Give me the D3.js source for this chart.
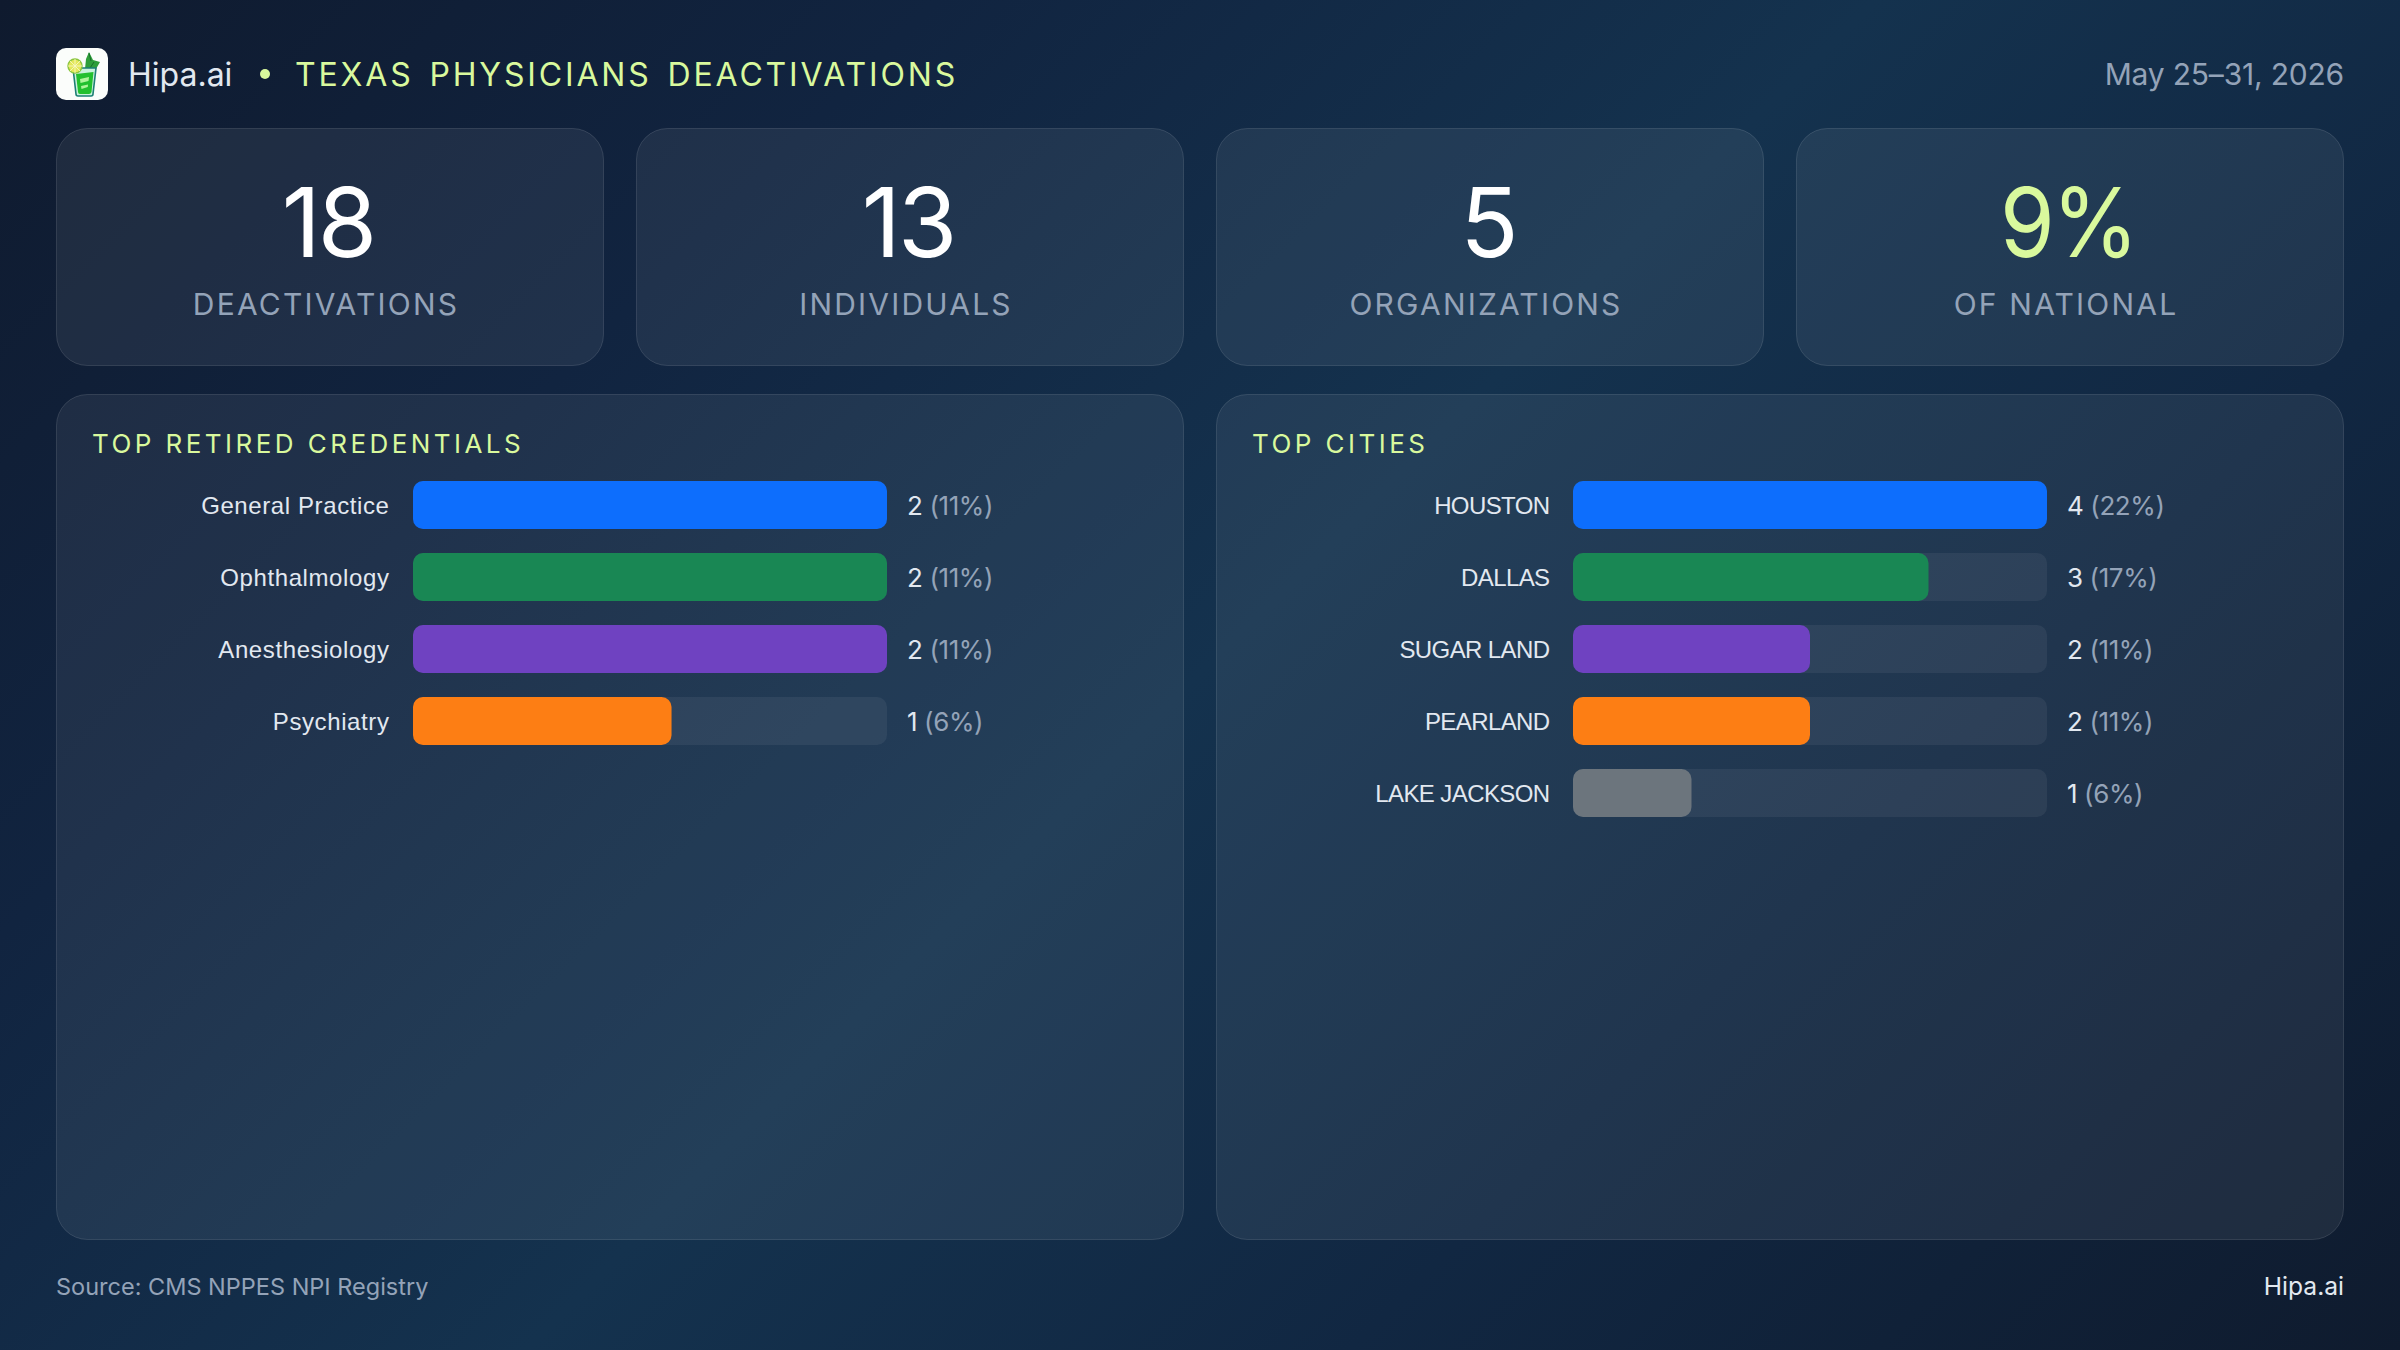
<!DOCTYPE html>
<html lang="en">
<head>
<meta charset="utf-8">
<title>Texas Physicians Deactivations</title>
<script src="https://cdn.jsdelivr.net/npm/d3@7/dist/d3.min.js"></script>
<style>
  html, body { margin: 0; padding: 0; width: 2400px; height: 1350px; overflow: hidden; }
  body { background: linear-gradient(135deg, #0f1a2e 0%, #112440 25%, #14324e 50%, #112742 72%, #0f1b2e 100%); }
  svg { display: block; font-family: Inter, "Noto Sans", sans-serif; }
  .axis .domain, .axis line { display: none; }
</style>
</head>
<body>
<svg id="chart" width="2400" height="1350"></svg>
<script>
// Headline figures
const statValues = ["18", "13", "5", "9%"];
const statLabels = ["DEACTIVATIONS", "INDIVIDUALS", "ORGANIZATIONS", "OF NATIONAL"];

// Credentials panel: bars follow the share of deactivations
const credentialNames = ["General Practice", "Ophthalmology", "Anesthesiology", "Psychiatry"];
const credentialCounts = [2, 2, 2, 1];
const credentialShares = [11, 11, 11, 6];

// Cities panel: bars follow the count
const cityNames = ["HOUSTON", "DALLAS", "SUGAR LAND", "PEARLAND", "LAKE JACKSON"];
const cityCounts = [4, 3, 2, 2, 1];
const cityShares = [22, 17, 11, 11, 6];

const barColors = ["#0d6efd", "#198754", "#6f42c1", "#fd7e14", "#6c757d"];

const LIME = "#d9f99d", MUTED = "#94a3b8", SOFT = "#e2e8f0";
const svg = d3.select("#chart");

// Header
const logo = svg.append("g").attr("transform", "translate(56,48)");
logo.append("rect").attr("width", 52).attr("height", 52).attr("rx", 10).attr("fill", "#fbfdfb");
logo.append("path").attr("d", "M30 11 L33 4 L37 12 L44 14 L40 21 L29 21 Z").attr("fill", "#2e9e3a");
logo.append("path").attr("d", "M33 5 L35 13 M38 14 L34 20").attr("stroke", "#166d2a").attr("stroke-width", 1).attr("fill", "none");
logo.append("path").attr("d", "M17 20 L40 20 L37 46 Q37 48 35 48 L22 48 Q20 48 20 46 Z")
  .attr("fill", "#c9f2dc").attr("stroke", "#1d7f74").attr("stroke-width", 1.6);
logo.append("path").attr("d", "M20 26 L37.5 24 L35.5 44 Q35 46 33 46 L24 46 Q22 46 22 44 Z").attr("fill", "#22c02e");
logo.append("path").attr("d", "M24 31 L33 29 L32.5 33 L24.5 35 Z M25 38 L32 36.5 L31.8 39 L25.5 41 Z").attr("fill", "#aef59a");
logo.append("circle").attr("cx", 19).attr("cy", 18).attr("r", 7).attr("fill", "#e4e85a").attr("stroke", "#8cc63f").attr("stroke-width", 1.4);
logo.append("path").attr("d", "M19 11 V25 M12 18 H26 M14 13 L24 23 M24 13 L14 23").attr("stroke", "#f6f7c4").attr("stroke-width", 0.9);

svg.append("text").attr("x", 128).attr("y", 86).attr("font-size", 32).attr("fill", SOFT).text("Hipa.ai");
svg.append("circle").attr("cx", 265).attr("cy", 74).attr("r", 5).attr("fill", LIME);
svg.append("text").attr("x", 295).attr("y", 86).attr("font-size", 32).attr("letter-spacing", 2.85)
  .attr("word-spacing", 4).attr("fill", LIME).text("TEXAS PHYSICIANS DEACTIVATIONS");
svg.append("text").attr("x", 2344).attr("y", 85).attr("text-anchor", "end").attr("font-size", 30)
  .attr("letter-spacing", -0.2).attr("fill", MUTED).text("May 25–31, 2026");

// Stat cards
const cardX = d3.scaleBand().domain(d3.range(statValues.length)).range([56, 2344]).paddingInner(32 / 580);
const cards = svg.selectAll(".card").data(statValues).join("g").attr("class", "card")
  .attr("transform", (d, i) => `translate(${cardX(i)},128)`);
cards.append("rect").attr("x", 0.5).attr("y", 0.5).attr("width", cardX.bandwidth() - 1).attr("height", 237)
  .attr("rx", 31).attr("fill", "rgba(255,255,255,0.066)").attr("stroke", "rgba(255,255,255,0.12)");
cards.append("text").attr("x", cardX.bandwidth() / 2 - 2).attr("y", 129).attr("text-anchor", "middle")
  .attr("font-size", 96).attr("letter-spacing", -3).attr("fill", (d, i) => i === 3 ? LIME : "#ffffff").text(d => d)
  .filter(d => d.endsWith("%")).attr("textLength", 136).attr("lengthAdjust", "spacingAndGlyphs");
cards.append("text").attr("x", cardX.bandwidth() / 2 - 4).attr("y", 187).attr("text-anchor", "middle")
  .attr("font-size", 30).attr("letter-spacing", 2.2).attr("fill", MUTED).text((d, i) => statLabels[i]);

// Ranked bar panel
function barPanel(left, title, names, counts, shares, barValues, labelSpacing) {
  const g = svg.append("g").attr("transform", `translate(${left},394)`);
  g.append("rect").attr("x", 0.5).attr("y", 0.5).attr("width", 1127).attr("height", 845)
    .attr("rx", 31).attr("fill", "rgba(255,255,255,0.066)").attr("stroke", "rgba(255,255,255,0.12)");
  g.append("text").attr("x", 36).attr("y", 59).attr("font-size", 26).attr("letter-spacing", 3.45)
    .attr("fill", LIME).text(title);

  const x = d3.scaleLinear().domain([0, d3.max(barValues)]).range([0, 474]);
  const y = d3.scaleBand().domain(names).range([0, names.length * 72 - 24]).paddingInner(1 / 3);
  const plot = g.append("g").attr("transform", "translate(357,87)");

  plot.append("g").attr("class", "axis").call(d3.axisLeft(y).tickSize(0).tickPadding(23.5))
    .call(a => a.selectAll("text").attr("font-size", 24).attr("fill", SOFT).attr("font-family", "inherit")
      .attr("letter-spacing", labelSpacing).attr("dy", "0.37em"));

  const rows = plot.selectAll(".row").data(names).join("g").attr("class", "row")
    .attr("transform", d => `translate(0,${y(d)})`);
  rows.append("rect").attr("width", x.range()[1]).attr("height", y.bandwidth()).attr("rx", 10)
    .attr("fill", "rgba(255,255,255,0.06)");
  rows.append("rect").attr("width", (d, i) => x(barValues[i])).attr("height", y.bandwidth()).attr("rx", 10)
    .attr("fill", (d, i) => barColors[i]);
  const value = rows.append("text").attr("x", x.range()[1] + 20).attr("y", y.bandwidth() / 2 + 10)
    .attr("font-size", 26).attr("letter-spacing", -0.4);
  value.append("tspan").attr("fill", SOFT).text((d, i) => counts[i]);
  value.append("tspan").attr("fill", MUTED).text((d, i) => ` (${shares[i]}%)`);
}
barPanel(56, "TOP RETIRED CREDENTIALS", credentialNames, credentialCounts, credentialShares, credentialShares, 0.6);
barPanel(1216, "TOP CITIES", cityNames, cityCounts, cityShares, cityCounts, -0.6);

// Footer
svg.append("text").attr("x", 56).attr("y", 1295).attr("font-size", 23.5).attr("fill", MUTED)
  .text("Source: CMS NPPES NPI Registry");
svg.append("text").attr("x", 2344).attr("y", 1295).attr("text-anchor", "end").attr("font-size", 24.6)
  .attr("fill", SOFT).text("Hipa.ai");
</script>
</body>
</html>
